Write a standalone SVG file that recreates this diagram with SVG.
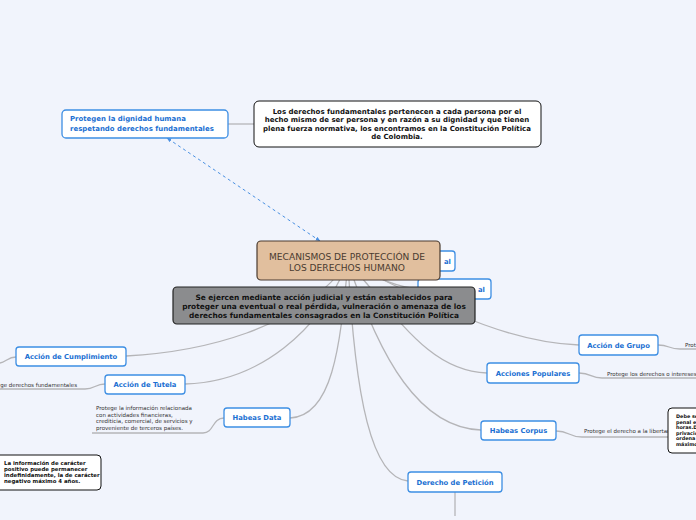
<svg xmlns="http://www.w3.org/2000/svg" width="696" height="520" viewBox="0 0 696 520">
<defs>
<style>
.bg{fill:#f1f4fc}
.con{fill:none;stroke:#b5b5b8;stroke-width:1.3}
.node{fill:#ffffff;stroke:#3d8ee3;stroke-width:1.3}
.lbl{font-family:"DejaVu Sans",Verdana,sans-serif;font-weight:bold;font-size:6.8px;fill:#1a6fd2;text-anchor:middle}
.note{fill:#ffffff;stroke:#111;stroke-width:1}
.nt{font-family:"DejaVu Sans",Verdana,sans-serif;font-weight:bold;fill:#111}
.sm{font-family:"DejaVu Sans",Verdana,sans-serif;font-size:5.5px;fill:#333}
</style>
<marker id="ah" viewBox="0 0 10 10" refX="9" refY="5" markerWidth="5" markerHeight="5" orient="auto-start-reverse">
<path d="M0,1 L10,5 L0,9 Z" fill="#4a90e2"/>
</marker>
</defs>
<rect class="bg" x="0" y="0" width="696" height="520"/>

<g id="connectors">
<path class="con" d="M228,124 L254,124"/>
<path class="con" d="M348,262 C300,330 200,352 126,356"/>
<path class="con" d="M348,262 C320,330 260,382 185,384"/>
<path class="con" d="M348,262 C340,350 332,416 290,418"/>
<path class="con" d="M348,262 C355,400 372,478 408,481"/>
<path class="con" d="M348,262 C380,360 420,428 481,430"/>
<path class="con" d="M348,262 C400,320 430,371 487,373"/>
<path class="con" d="M348,262 C460,320 520,343 579,345"/>
<path class="con" d="M348,262 C380,262 400,262 420,261"/>
<path class="con" d="M348,262 C380,280 400,288 420,289"/>
<path class="con" d="M16,357 C8,357 6,362 0,363"/>
<path class="con" d="M105,384 C95,384 95,389 85,389 L0,389"/>
<path class="con" d="M224,418 C212,418 214,433 203,433 L92,433"/>
<path class="con" d="M658,345 C670,345 668,349 680,349 L696,349"/>
<path class="con" d="M579,373 C592,373 590,378 602,378 L696,378"/>
<path class="con" d="M556,431 C570,431 568,437 582,437 L668,437"/>
<path class="con" d="M455,492 L455,516"/>
<path d="M320,241 L167,138" fill="none" stroke="#4a90e2" stroke-width="1" stroke-dasharray="3,3" marker-start="url(#ah)" marker-end="url(#ah)"/>
</g>

<g id="n-dignidad">
<rect class="node" x="62" y="110" width="166" height="28" rx="4"/>
<text class="lbl" x="70" y="121" style="text-anchor:start;font-size:6.95px">Protegen la dignidad humana</text>
<text class="lbl" x="70" y="131" style="text-anchor:start;font-size:6.95px">respetando derechos fundamentales</text>
</g>

<g id="n-derechos">
<rect class="note" x="254" y="101" width="287" height="46" rx="5"/>
<g class="nt" font-size="7" text-anchor="middle">
<text x="397" y="113.5">Los derechos fundamentales pertenecen a cada persona por el</text>
<text x="397" y="122">hecho mismo de ser persona y en razón a su dignidad y que tienen</text>
<text x="397" y="130.5">plena fuerza normativa, los encontramos en la Constitución Política</text>
<text x="397" y="139">de Colombia.</text>
</g>
</g>

<g id="n-hidden1">
<rect class="node" x="418" y="251" width="37" height="20" rx="3"/>
<text class="lbl" x="444" y="263.5" style="text-anchor:start">al</text>
</g>
<g id="n-hidden2">
<rect class="node" x="418" y="279" width="73" height="20" rx="3"/>
<text class="lbl" x="478" y="292" style="text-anchor:start">al</text>
</g>

<g id="n-center">
<rect x="257" y="241" width="183" height="39" rx="4" fill="#e1bf9e" stroke="#4a3b30" stroke-width="1.2"/>
<text x="347" y="260" font-family="DejaVu Sans,Verdana,sans-serif" font-size="9.1" fill="#4a3b30" text-anchor="middle">MECANISMOS DE PROTECCIÓN DE</text>
<text x="347" y="271" font-family="DejaVu Sans,Verdana,sans-serif" font-size="9.1" fill="#4a3b30" text-anchor="middle">LOS DERECHOS HUMANO</text>
</g>

<g id="n-gray">
<rect x="173" y="287" width="302" height="37" rx="4" fill="#8b8c8e" stroke="#222" stroke-width="1.2"/>
<g class="nt" font-size="7.4" text-anchor="middle">
<text x="324" y="299.5">Se ejercen mediante acción judicial y están establecidos para</text>
<text x="324" y="308.5">proteger una eventual o real pérdida, vulneración o amenaza de los</text>
<text x="324" y="317.5">derechos fundamentales consagrados en la Constitución Política</text>
</g>
</g>

<g id="n-cumplimiento">
<rect class="node" x="16" y="347" width="110" height="19" rx="3"/>
<text class="lbl" x="71" y="359">Acción de Cumplimiento</text>
</g>

<g id="n-tutela">
<rect class="node" x="105" y="375" width="80" height="19" rx="3"/>
<text class="lbl" x="145" y="387">Acción de Tutela</text>
<text class="sm" x="77" y="386.5" text-anchor="end">ge derechos fundamentales</text>
</g>

<g id="n-habeasdata">
<rect class="node" x="224" y="408" width="66" height="19" rx="3"/>
<text class="lbl" x="257" y="420">Habeas Data</text>
<text class="sm" x="96" y="410">Protege la información relacionada</text>
<text class="sm" x="96" y="416.5">con actividades financieras,</text>
<text class="sm" x="96" y="423">crediticia, comercial, de servicios y</text>
<text class="sm" x="96" y="429.5">proveniente de terceros países.</text>
</g>

<g id="n-caracter">
<rect class="note" x="-5" y="455" width="106" height="35" rx="4"/>
<g class="nt" font-size="5.4">
<text x="4" y="465">La información de carácter</text>
<text x="4" y="471">positivo puede permanecer</text>
<text x="4" y="477">indefinidamente, la de carácter</text>
<text x="4" y="483">negativo máximo 4 años.</text>
</g>
</g>

<g id="n-grupo">
<rect class="node" x="579" y="335" width="79" height="20" rx="3"/>
<text class="lbl" x="618.5" y="347.5">Acción de Grupo</text>
<text class="sm" x="685" y="347">Prot</text>
</g>

<g id="n-populares">
<rect class="node" x="487" y="363" width="92" height="20" rx="3"/>
<text class="lbl" x="533" y="375.5">Acciones Populares</text>
<text class="sm" x="607" y="375.5">Protege los derechos o intereses</text>
</g>

<g id="n-corpus">
<rect class="node" x="481" y="421" width="75" height="19" rx="3"/>
<text class="lbl" x="518.5" y="433">Habeas Corpus</text>
<text class="sm" x="584" y="433">Protege el derecho a la libertad</text>
</g>

<g id="n-debe">
<rect class="note" x="668" y="408" width="40" height="45" rx="4"/>
<g class="nt" font-size="4.9">
<text x="676" y="418">Debe se</text>
<text x="676" y="423.5">penal er</text>
<text x="676" y="429">horas.Dy</text>
<text x="676" y="434.5">privació</text>
<text x="676" y="440">ordena l</text>
<text x="676" y="445.5">máximo</text>
</g>
</g>

<g id="n-peticion">
<rect class="node" x="408" y="472" width="94" height="20" rx="3"/>
<text class="lbl" x="455" y="484.5">Derecho de Petición</text>
</g>
</svg>
